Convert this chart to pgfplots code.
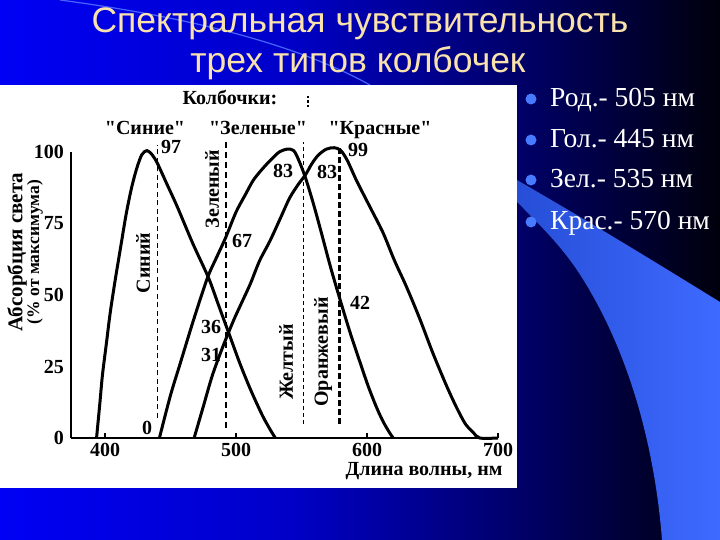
\documentclass[border=0pt]{standalone}
\usepackage{pgfplots}
\pgfplotsset{compat=1.18}
\usepackage{fontspec}
\setmainfont{Liberation Serif}
\newfontfamily\sansf{Liberation Sans}
\newfontfamily\qf{Liberation Serif}
\definecolor{titlecol}{RGB}{250,226,172}
\definecolor{bgA}{RGB}{0,0,245}
\definecolor{bgB}{RGB}{0,0,200}
\definecolor{bgC}{RGB}{0,0,95}
\definecolor{bgD}{RGB}{0,0,12}
\definecolor{bandA}{RGB}{38,78,215}
\definecolor{bandB}{RGB}{62,106,255}
\definecolor{bulletc}{RGB}{72,122,255}
\newcommand{\cf}{\fontsize{20bp}{22bp}\selectfont\bfseries}
\newcommand{\q}{{\qf\bfseries"}}
\begin{document}
\begin{tikzpicture}
% ---------- background ----------
\begin{scope}[x=1bp,y=-1bp]
\useasboundingbox (0,0) rectangle (720,540);
\fill[left color=bgA,right color=bgB] (0,0) rectangle (290.5,540);
\fill[left color=bgB,right color=bgC] (290,0) rectangle (540.5,540);
\fill[left color=bgC,right color=bgD] (540,0) rectangle (720,540);
\fill[left color=bandA,right color=bandB] (517,180) .. controls (600,228) and (660,265) .. (720,302) -- (720,540) -- (662,540)
  .. controls (655,450) and (630,350) .. (577,270) .. controls (560,245) and (540,225) .. (517,202) -- cycle;
\draw[line width=1.2bp, draw={rgb,255:red,70;green,100;blue,255}] (60,0) .. controls (150,12) and (280,35) .. (370,85);
\fill[white] (0,85) rectangle (517,488);
% title
\node[font=\sansf\fontsize{35.5bp}{38bp}\selectfont, text=titlecol, anchor=base] at (360,33) {Спектральная чувствительность};
\node[font=\sansf\fontsize{35.5bp}{38bp}\selectfont, text=titlecol, anchor=base] at (358,73) {трех типов колбочек};
% bullets
\foreach \yy/\tt in {107/{Род.- 505 нм},148/{Гол.- 445 нм},188/{Зел.- 535 нм},230/{Крас.- 570 нм}}{
  \fill[bulletc] (531,\yy-8) circle (5.5);
  \node[font=\fontsize{27.5bp}{29bp}\selectfont, text=white, anchor=base west, inner sep=0pt] at (550,\yy) {\tt};
}
\end{scope}
% ---------- axis ----------
\begin{axis}[
  at={(71bp,-438bp)}, anchor=south west,
  scale only axis, width=427bp, height=286bp,
  xmin=374, xmax=700, ymin=0, ymax=100,
  axis x line*=bottom, axis y line*=left,
  axis line style={line width=2.8bp, black},
  xtick={400,500,600,700}, ytick={0,25,50,75,100},
  tick align=inside, major tick length=5bp,
  x tick style={line width=1.4bp, black},
  y tick style={draw=none},
  /pgf/number format/assume math mode=true,
  xticklabel style={font=\cf, inner sep=0pt, yshift=-5bp},
  yticklabel style={font=\cf, inner sep=0pt, xshift=-7bp},
  clip=false,
]
% Blue cones
\addplot[black, line width=3bp, smooth, tension=0.5] coordinates {
(393.5,0) (396,12) (398,22) (401,33) (404,44) (408,56) (412,67) (416,78) (420,87) (424,94) (428,99) (432,100.5) (436,99) (440,96) (447,89) (455,81) (467,68) (479,56) (487,46) (495,36) (503,26) (511,17) (520,8) (526,3) (530,0)};
% Green cones
\addplot[black, line width=3bp, smooth, tension=0.5] coordinates {
(441.5,0) (450,15) (458,27) (466,39) (473,49) (479,57) (486,64) (492,70) (500,79) (507,85) (513,90) (519,93.5) (526,97) (533,100) (539,101) (544,100.5) (548,97) (553,91) (559,82) (565,72) (572,60) (579,49) (587,37) (595,26) (601,18) (607,11) (612,6) (617,2) (620,0)};
% Red cones
\addplot[black, line width=3bp, smooth, tension=0.5] coordinates {
(468,0) (475,11) (482,22) (490,32) (498,41) (505,48) (511,54) (518,62) (526,69) (534,77) (541,84) (548,89) (553,92) (558,96) (563,99) (569,101) (575,101.5) (580,100.5) (585,97) (592,90) (602,81) (612,72) (621,62) (630,53) (640,42) (650,30) (660,19) (668,11) (675,5) (681,2) (686,0) (700,0)};
% dashed reference lines
\addplot[black, line width=1.3bp, dash pattern=on 5bp off 3.5bp] coordinates {(440,7) (440,102.5)};
\addplot[black, line width=1.7bp, dash pattern=on 6bp off 4bp] coordinates {(492.4,3.5) (492.4,104)};
\addplot[black, line width=1.1bp, dash pattern=on 4bp off 3bp] coordinates {(551.5,5) (551.5,103.5)};
\addplot[black, line width=2.2bp, dash pattern=on 2.5bp off 2bp] coordinates {(555,115.7) (555,120.3)};
\addplot[black, line width=2.5bp, dash pattern=on 6bp off 3bp] coordinates {(578.8,5) (578.8,102.4)};
\end{axis}
% ---------- chart texts ----------
\begin{scope}[x=1bp,y=-1bp, every node/.style={inner sep=0pt}]
\node[font=\cf] at (230,97) {Колбочки:};
\node[font=\cf] at (145,128) {\q Синие\q};
\node[font=\cf] at (258,128) {\q Зеленые\q};
\node[font=\cf] at (380,130) {\q Красные\q};
\node[font=\cf] at (171,147) {97};
\node[font=\cf] at (358,150) {99};
\node[font=\cf] at (283,171) {83};
\node[font=\cf] at (327,172) {83};
\node[font=\cf] at (242,241) {67};
\node[font=\cf] at (211,327) {36};
\node[font=\cf] at (211,355) {31};
\node[font=\cf] at (360,303) {42};
\node[font=\cf] at (147,428) {0};
\node[font=\cf, rotate=90] at (143,263) {Синий};
\node[font=\cf, rotate=90] at (212,189) {Зеленый};
\node[font=\cf, rotate=90] at (286,362) {Желтый};
\node[font=\cf, rotate=90] at (323,352) {Оранжевый};
\node[font=\fontsize{21bp}{22bp}\selectfont\bfseries, rotate=90] at (17,252) {Абсорбция света};
\node[font=\fontsize{17.5bp}{18bp}\selectfont\bfseries, rotate=90] at (35,252) {(\% от максимума)};
\node[font=\cf] at (424,471) {Длина волны, нм};
\end{scope}
\end{tikzpicture}
\end{document}
